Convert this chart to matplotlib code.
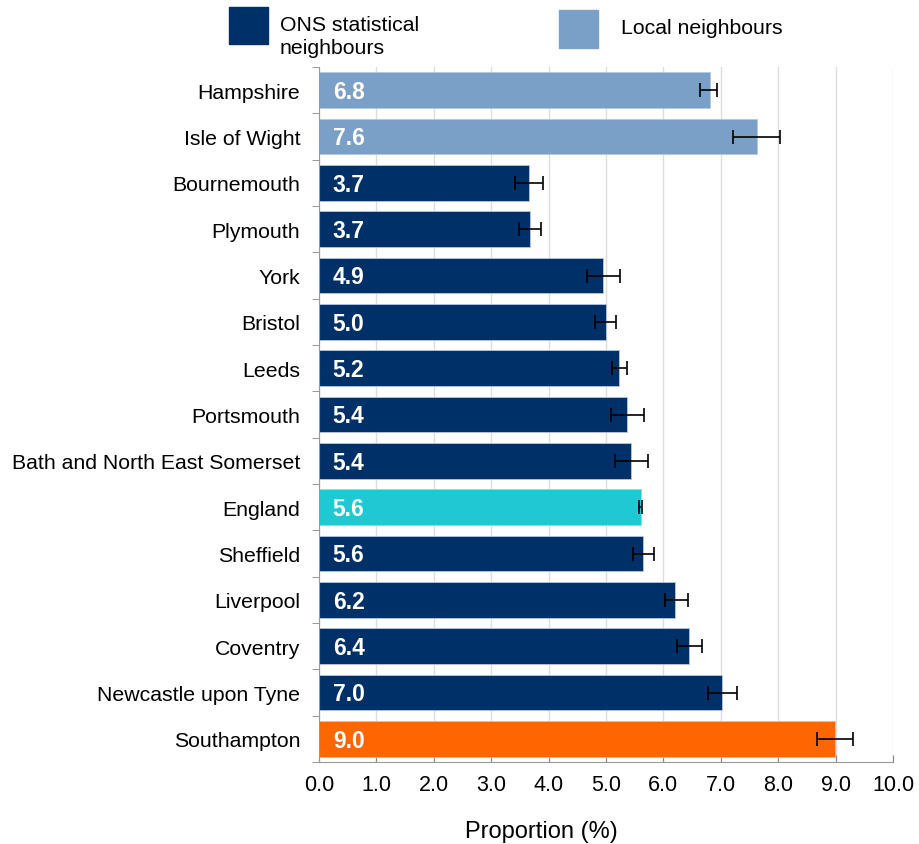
import numpy as np
import matplotlib.pyplot as plt
from matplotlib.patches import Rectangle

plt.rcParams["font.family"] = ["Liberation Sans", "DejaVu Sans"]

areas = ["Hampshire", "Isle of Wight", "Bournemouth", "Plymouth", "York", "Bristol",
         "Leeds", "Portsmouth", "Bath and North East Somerset", "England", "Sheffield",
         "Liverpool", "Coventry", "Newcastle upon Tyne", "Southampton"]
values = [6.81, 7.63, 3.66, 3.68, 4.94, 5.0, 5.23, 5.37, 5.43, 5.61, 5.64, 6.21, 6.45, 7.02, 8.99]
labels = ["6.8", "7.6", "3.7", "3.7", "4.9", "5.0", "5.2", "5.4", "5.4", "5.6", "5.6", "6.2", "6.4", "7.0", "9.0"]
ci_low = [6.64, 7.21, 3.41, 3.48, 4.67, 4.81, 5.10, 5.09, 5.16, 5.58, 5.47, 6.03, 6.24, 6.78, 8.68]
ci_high = [6.94, 8.03, 3.90, 3.87, 5.24, 5.17, 5.37, 5.66, 5.73, 5.63, 5.84, 6.43, 6.67, 7.28, 9.30]
groups = ["local", "local", "ons", "ons", "ons", "ons", "ons", "ons", "ons", "england",
          "ons", "ons", "ons", "ons", "southampton"]

colours = {"local": "#7BA0C8", "ons": "#003068", "england": "#1FC9D4", "southampton": "#FF6600"}

fig = plt.figure(figsize=(9.19, 8.45), dpi=100)
ax = fig.add_axes([319 / 919, 1 - 763 / 845, (893 - 319) / 919, (763 - 68) / 845])

y = np.arange(len(areas))
vals = np.array(values)
err = [vals - np.array(ci_low), np.array(ci_high) - vals]
ax.barh(y, vals, height=0.77, color=[colours[g] for g in groups],
        edgecolor="#B8C8DC", linewidth=0.6, zorder=2)
ax.errorbar(vals, y, xerr=err, fmt="none", ecolor="black", elinewidth=1.2,
            capsize=5, capthick=1.2, zorder=3)

for yi, lab in zip(y, labels):
    ax.text(0.24, yi + 0.03, lab, color="white", fontweight="bold", fontsize=16.5,
            va="center", ha="left", zorder=4)

ax.set_ylim(len(areas) - 0.5, -0.5)
ax.set_xlim(0, 10)
ax.set_xticks(np.arange(0, 11, 1))
ax.set_xticklabels([f"{v:.1f}" for v in np.arange(0, 11, 1)], fontsize=15.5)
ax.set_yticks(y)
ax.set_yticklabels(areas, fontsize=15.3)
ax.tick_params(axis="y", length=0, pad=13.5)
ax.set_yticks(np.arange(-0.5, len(areas), 1), minor=True)
ax.tick_params(axis="y", which="minor", length=5, color="#888888", direction="out")
ax.tick_params(axis="x", length=5, color="#888888", direction="in", pad=9)
ax.grid(axis="x", color="#DDDDDD", linewidth=1, zorder=0)
for s in ["top", "right"]:
    ax.spines[s].set_visible(False)
ax.spines["left"].set_color("#999999")
ax.spines["bottom"].set_color("#999999")
fig.text(541 / 919, 1 - 832 / 845, "Proportion (%)", fontsize=17, ha="center", va="center")

# legend
fig.patches.append(Rectangle((229 / 919, 1 - 45 / 845), 39 / 919, 37 / 845,
                             transform=fig.transFigure, color=colours["ons"]))
fig.patches.append(Rectangle((559 / 919, 1 - 49 / 845), 39 / 919, 38 / 845,
                             transform=fig.transFigure, color=colours["local"]))
fig.text(280 / 919, 1 - 37 / 845, "ONS statistical\nneighbours", fontsize=15.3,
         va="center", ha="left", linespacing=1.25)
fig.text(621 / 919, 1 - 28 / 845, "Local neighbours", fontsize=15.3, va="center", ha="left")

fig.savefig("out.png", dpi=100)
